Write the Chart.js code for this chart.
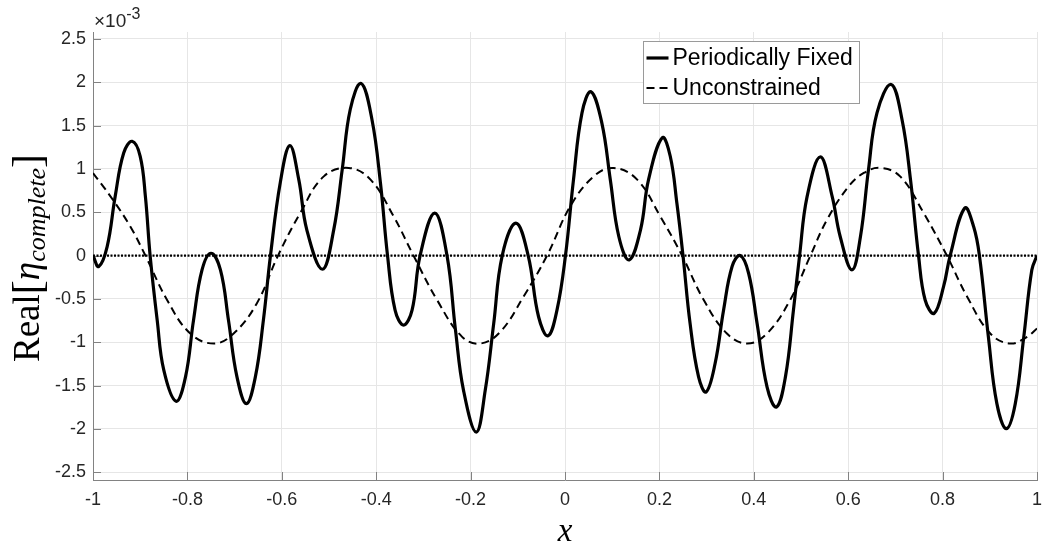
<!DOCTYPE html>
<html><head><meta charset="utf-8">
<script src="https://cdn.jsdelivr.net/npm/chart.js@4.4.1/dist/chart.umd.min.js"></script>
<style>html,body{margin:0;padding:0;background:#fff;}#wrap{width:1044px;height:546px;position:relative;}</style>
</head><body><div id="wrap"><canvas id="c" width="1044" height="546"></canvas></div>
<script>
// ---- data (values in units of 1e-3) ----
const seriesLabels = ['Periodically Fixed', 'Unconstrained'];
const solidX = [-1.000,-0.988,-0.970,-0.953,-0.935,-0.917,-0.900,-0.889,-0.879,-0.864,-0.850,-0.824,-0.804,-0.787,-0.769,-0.750,-0.730,-0.713,-0.695,-0.675,-0.656,-0.639,-0.624,-0.603,-0.583,-0.564,-0.547,-0.514,-0.490,-0.472,-0.455,-0.432,-0.409,-0.391,-0.376,-0.360,-0.342,-0.324,-0.307,-0.276,-0.250,-0.232,-0.215,-0.188,-0.169,-0.151,-0.133,-0.104,-0.078,-0.056,-0.036,-0.017,0.001,0.018,0.036,0.055,0.078,0.096,0.114,0.136,0.160,0.177,0.206,0.223,0.237,0.250,0.265,0.283,0.299,0.318,0.336,0.354,0.371,0.389,0.407,0.428,0.448,0.467,0.484,0.497,0.513,0.541,0.566,0.583,0.608,0.626,0.643,0.661,0.691,0.714,0.732,0.749,0.763,0.782,0.802,0.816,0.847,0.866,0.878,0.897,0.915,0.935,0.954,0.972,0.989,1.000];
const solidY = [0.000,-0.127,0.104,0.683,1.184,1.319,1.146,0.683,0.000,-0.745,-1.323,-1.682,-1.400,-0.745,-0.166,0.027,-0.166,-0.745,-1.400,-1.709,-1.400,-0.745,0.000,0.850,1.269,0.876,0.297,-0.158,0.297,0.992,1.686,1.987,1.570,0.837,0.000,-0.629,-0.802,-0.629,0.000,0.490,0.000,-0.860,-1.555,-2.037,-1.555,-0.783,0.000,0.374,0.000,-0.706,-0.926,-0.629,0.000,0.876,1.647,1.890,1.532,0.876,0.220,-0.050,0.297,0.876,1.360,1.146,0.606,0.000,-0.783,-1.400,-1.574,-1.246,-0.629,-0.127,0.000,-0.204,-0.783,-1.516,-1.748,-1.400,-0.629,0.000,0.683,1.138,0.683,0.220,-0.166,0.220,0.992,1.647,1.975,1.570,0.876,0.000,-0.513,-0.667,-0.359,0.000,0.548,0.330,0.000,-0.938,-1.709,-1.998,-1.709,-0.938,-0.166,0.000];
const dashX = [-1.000,-0.963,-0.921,-0.889,-0.843,-0.794,-0.744,-0.702,-0.653,-0.608,-0.561,-0.511,-0.458,-0.412,-0.363,-0.321,-0.271,-0.218,-0.179,-0.137,-0.088,-0.038,0.011,0.061,0.103,0.153,0.202,0.248,0.294,0.343,0.386,0.428,0.477,0.520,0.555,0.601,0.633,0.668,0.710,0.760,0.809,0.852,0.901,0.943,0.979,1.000];
const dashY = [0.953,0.683,0.336,0.000,-0.513,-0.899,-1.015,-0.899,-0.552,0.000,0.490,0.914,1.011,0.876,0.451,0.000,-0.513,-0.938,-1.015,-0.880,-0.475,0.000,0.567,0.914,1.011,0.876,0.451,0.000,-0.513,-0.899,-1.015,-0.899,-0.513,0.000,0.413,0.799,0.953,1.011,0.914,0.490,0.000,-0.475,-0.899,-1.015,-0.938,-0.841];
const zeroX = [-1, 1];
const zeroY = [0, 0];
const xTicks = [-1,-0.8,-0.6,-0.4,-0.2,0,0.2,0.4,0.6,0.8,1];
const yTicks = [-2.5,-2,-1.5,-1,-0.5,0,0.5,1,1.5,2,2.5];
const yExponentLabel = ['\u00D710', '-3'];
const xTitle = 'x';

const toPts = (xs, ys) => xs.map((x, i) => ({x: x, y: ys[i]}));
const fmt = v => String(Math.round(v * 10) / 10);
const SANS = '"Liberation Sans", Arial, Helvetica, sans-serif';
const SERIF = '"Liberation Serif", "Times New Roman", serif';
const AXIS_COLOR = '#828282';
const TEXT_COLOR = '#262626';

const decor = {
  id: 'decor',
  beforeDatasetsDraw(chart) {
    const {ctx, chartArea: a, scales} = chart;
    ctx.save();
    ctx.strokeStyle = AXIS_COLOR; ctx.lineWidth = 1;
    const tl = 8;
    scales.x.ticks.forEach(t => {
      const px = Math.round(scales.x.getPixelForValue(t.value)) + 0.5;
      ctx.beginPath(); ctx.moveTo(px, a.bottom); ctx.lineTo(px, a.bottom - tl); ctx.stroke();
    });
    scales.y.ticks.forEach(t => {
      const py = Math.round(scales.y.getPixelForValue(t.value)) + 0.5;
      ctx.beginPath(); ctx.moveTo(a.left, py); ctx.lineTo(a.left + tl, py); ctx.stroke();
    });
    ctx.restore();
  },
  afterDraw(chart) {
    const {ctx, chartArea: a} = chart;
    ctx.save();
    ctx.fillStyle = TEXT_COLOR;
    // exponent label
    ctx.textBaseline = 'alphabetic'; ctx.textAlign = 'left';
    ctx.font = '19px ' + SANS;
    ctx.fillText(yExponentLabel[0], a.left + 1, 27);
    const w0 = ctx.measureText(yExponentLabel[0]).width;
    ctx.font = '16px ' + SANS;
    ctx.fillText(yExponentLabel[1], a.left + 1 + w0, 19);

    // x title
    ctx.fillStyle = '#000';
    ctx.font = 'italic 33px ' + SERIF;
    ctx.textAlign = 'center';
    ctx.fillText(xTitle, 565, 541);

    // y title  Real[eta_complete]
    const parts = [
      {t: 'Real', f: '37px ' + SERIF, dy: 0},
      {t: '[', f: '42px ' + SERIF, dy: 2},
      {t: '\u03B7', f: 'italic 37px ' + SERIF, dy: 0},
      {t: 'complete', f: 'italic 26px ' + SERIF, dy: 6},
      {t: ']', f: '42px ' + SERIF, dy: 2}
    ];
    let total = 0;
    parts.forEach(p => { ctx.font = p.f; p.w = ctx.measureText(p.t).width; total += p.w; });
    ctx.translate(39, 258);
    ctx.rotate(-Math.PI / 2);
    ctx.textAlign = 'left';
    let xx = -total / 2;
    parts.forEach(p => { ctx.font = p.f; ctx.fillText(p.t, xx, p.dy); xx += p.w; });
    ctx.restore();

    // legend
    ctx.save();
    const bx = 643.5, by = 41.5, bw = 216, bh = 62;
    ctx.fillStyle = '#fff'; ctx.fillRect(bx, by, bw, bh);
    ctx.strokeStyle = '#9a9a9a'; ctx.lineWidth = 1; ctx.strokeRect(bx, by, bw, bh);
    const rows = [58, 88];
    chart.data.datasets.slice(0, 2).forEach((ds, i) => {
      ctx.strokeStyle = ds.borderColor; ctx.lineWidth = ds.borderWidth;
      ctx.setLineDash(ds.borderDash || []);
      ctx.beginPath(); ctx.moveTo(646.5, rows[i]); ctx.lineTo(668.5, rows[i]); ctx.stroke();
      ctx.setLineDash([]);
      ctx.fillStyle = '#000'; ctx.font = '23px ' + SANS;
      ctx.textBaseline = 'middle'; ctx.textAlign = 'left';
      ctx.fillText(ds.label, 672.5, rows[i] + 1);
    });
    ctx.restore();
  }
};

const tickFont = {family: SANS, size: 18};
new Chart(document.getElementById('c'), {
  type: 'line',
  data: {datasets: [
    {label: seriesLabels[0], data: toPts(solidX, solidY), borderColor: '#000', borderWidth: 3.2, pointRadius: 0, tension: 0.4, fill: false},
    {label: seriesLabels[1], data: toPts(dashX, dashY), borderColor: '#000', borderWidth: 2, borderDash: [8, 5], pointRadius: 0, tension: 0.4, fill: false},
    {label: 'zero', data: toPts(zeroX, zeroY), borderColor: '#000', borderWidth: 2.2, borderDash: [2, 1.5], pointRadius: 0, fill: false}
  ]},
  options: {
    responsive: false, animation: false, devicePixelRatio: 1,
    layout: {padding: {top: 32, right: 7, left: 0, bottom: 0}},
    plugins: {legend: {display: false}, tooltip: {enabled: false}},
    scales: {
      x: {type: 'linear', min: -1, max: 1,
          afterBuildTicks: s => { s.ticks = xTicks.map(v => ({value: v})); },
          afterFit: s => { s.height = 66; s.paddingLeft = 0; s.paddingRight = 0; },
          grid: {color: '#e6e6e6', drawTicks: false},
          border: {color: AXIS_COLOR, width: 1},
          ticks: {padding: 9, font: tickFont, color: TEXT_COLOR, maxRotation: 0, autoSkip: false, callback: v => fmt(v)}},
      y: {type: 'linear', min: -2.59, max: 2.58,
          afterBuildTicks: s => { s.ticks = yTicks.map(v => ({value: v})); },
          afterFit: s => { s.width = 93; s.paddingTop = 0; s.paddingBottom = 0; },
          grid: {color: '#e6e6e6', drawTicks: false},
          border: {color: AXIS_COLOR, width: 1},
          ticks: {padding: 7, font: tickFont, color: TEXT_COLOR, autoSkip: false, callback: v => fmt(v)}}
    }
  },
  plugins: [decor]
});
</script>
</body></html>
